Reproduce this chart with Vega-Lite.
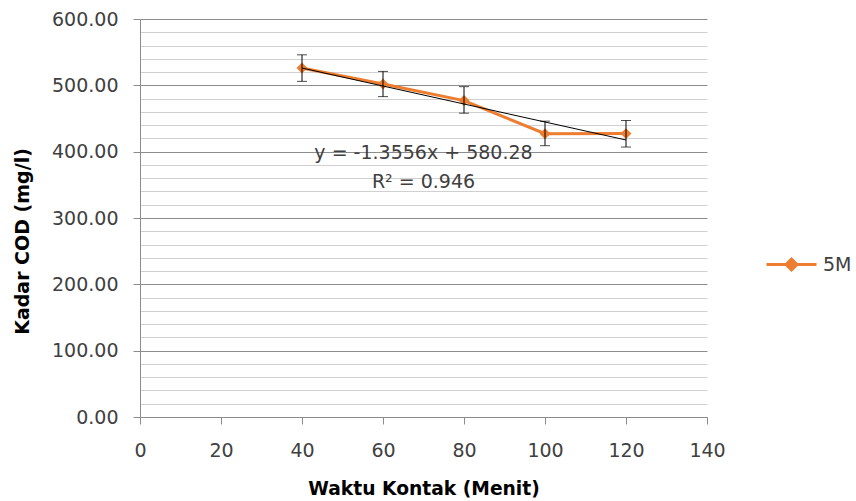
{
  "$schema": "https://vega.github.io/schema/vega-lite/v6.json",
  "width": 567,
  "height": 398,
  "autosize": "none",
  "padding": {"left": 140, "top": 19, "right": 149, "bottom": 84},
  "background": "white",
  "config": {
    "font": "DejaVu Sans",
    "view": {"stroke": null},
    "axis": {"labelFlush": false, "labelOverlap": false}
  },
  "datasets": {
    "obs": [
      {"waktu": 40, "cod": 526, "lo": 506, "hi": 546, "series": "5M"},
      {"waktu": 60, "cod": 502, "lo": 483, "hi": 521, "series": "5M"},
      {"waktu": 80, "cod": 477, "lo": 458, "hi": 498, "series": "5M"},
      {"waktu": 100, "cod": 427, "lo": 409, "hi": 446, "series": "5M"},
      {"waktu": 120, "cod": 427.2, "lo": 407, "hi": 447, "series": "5M"}
    ],
    "trend": [
      {"waktu": 40, "cod": 526.06},
      {"waktu": 120, "cod": 417.61}
    ],
    "notes": [
      {"waktu": 70, "cod": 398, "label": "y = -1.3556x + 580.28"},
      {"waktu": 70, "cod": 354, "label": "R² = 0.946"}
    ]
  },
  "layer": [
    {
      "data": {"name": "obs"},
      "mark": {"type": "line", "strokeWidth": 3, "point": {"shape": "diamond", "size": 120, "filled": true, "opacity": 1}},
      "encoding": {
        "x": {"field": "waktu", "type": "quantitative", "scale": {"domain": [0, 140], "nice": false},
          "axis": {"values": [0, 20, 40, 60, 80, 100, 120, 140], "grid": false, "labelFlush": false,
            "labelFontSize": 19, "labelColor": "#404040", "labelPadding": 17,
            "domainColor": "#8c8c8c", "tickColor": "#8c8c8c", "tickSize": 7,
            "title": "Waktu Kontak (Menit)", "titleFontSize": 18.7, "titleFontWeight": "bold", "titleColor": "#000000",
            "titleX": 283.5, "titleY": 71, "titleBaseline": "middle", "titleAlign": "center"}},
        "y": {"field": "cod", "type": "quantitative", "scale": {"domain": [0, 600], "nice": false},
          "axis": {
            "values": [0,20,40,60,80,100,120,140,160,180,200,220,240,260,280,300,320,340,360,380,400,420,440,460,480,500,520,540,560,580,600],
            "labelExpr": "datum.value % 100 === 0 ? format(datum.value, '.2f') : ''", "labelFlush": false,
            "labelFontSize": 19, "labelColor": "#404040", "labelPadding": 15,
            "domainColor": "#8c8c8c", "tickColor": "#8c8c8c", "tickSize": 7,
            "grid": true,
            "gridColor": {"condition": {"test": "datum.value % 100 === 0", "value": "#8c8c8c"}, "value": "#d0d0d0"},
            "gridWidth": 1,
            "tickOpacity": {"condition": {"test": "datum.value % 100 === 0", "value": 1}, "value": 0},
            "title": "Kadar COD (mg/l)", "titleFontSize": 19, "titleFontWeight": "bold", "titleColor": "#000000",
            "titleX": -118, "titleY": 222, "titleAngle": -90, "titleAlign": "center", "titleBaseline": "middle"
          }},
        "color": {"field": "series", "type": "nominal", "scale": {"range": ["#ED7D31"]},
          "legend": {"orient": "none", "legendX": 625, "legendY": 219, "title": null,
            "symbolType": "M-1,0L1,0M0,-0.22L0.22,0L0,0.22L-0.22,0Z", "symbolSize": 2500, "symbolStrokeWidth": 3,
            "symbolFillColor": "#ED7D31", "symbolStrokeColor": "#ED7D31", "labelFontSize": 19, "labelColor": "#404040", "padding": 0, "labelOffset": 5}}
      }
    },
    {
      "data": {"name": "obs"},
      "mark": {"type": "errorbar", "ticks": {"color": "black", "strokeWidth": 1}, "rule": {"color": "black", "strokeWidth": 1}, "size": 10},
      "encoding": {
        "x": {"field": "waktu", "type": "quantitative",
          "axis": {"values": [0, 20, 40, 60, 80, 100, 120, 140], "grid": false, "labelFlush": false,
            "labelFontSize": 19, "labelColor": "#404040", "labelPadding": 17,
            "domainColor": "#8c8c8c", "tickColor": "#8c8c8c", "tickSize": 7,
            "title": "Waktu Kontak (Menit)", "titleFontSize": 18.7, "titleFontWeight": "bold", "titleColor": "#000000",
            "titleX": 283.5, "titleY": 71, "titleBaseline": "middle", "titleAlign": "center"}},
        "y": {"field": "lo", "type": "quantitative",
          "axis": {
            "values": [0,20,40,60,80,100,120,140,160,180,200,220,240,260,280,300,320,340,360,380,400,420,440,460,480,500,520,540,560,580,600],
            "labelExpr": "datum.value % 100 === 0 ? format(datum.value, '.2f') : ''", "labelFlush": false,
            "labelFontSize": 19, "labelColor": "#404040", "labelPadding": 15,
            "domainColor": "#8c8c8c", "tickColor": "#8c8c8c", "tickSize": 7,
            "grid": true,
            "gridColor": {"condition": {"test": "datum.value % 100 === 0", "value": "#8c8c8c"}, "value": "#d0d0d0"},
            "gridWidth": 1,
            "tickOpacity": {"condition": {"test": "datum.value % 100 === 0", "value": 1}, "value": 0},
            "title": "Kadar COD (mg/l)", "titleFontSize": 19, "titleFontWeight": "bold", "titleColor": "#000000",
            "titleX": -118, "titleY": 222, "titleAngle": -90, "titleAlign": "center", "titleBaseline": "middle"
          }},
        "y2": {"field": "hi"}
      }
    },
    {
      "data": {"name": "trend"},
      "mark": {"type": "line", "color": "black", "strokeWidth": 1},
      "encoding": {
        "x": {"field": "waktu", "type": "quantitative",
          "axis": {"values": [0, 20, 40, 60, 80, 100, 120, 140], "grid": false, "labelFlush": false,
            "labelFontSize": 19, "labelColor": "#404040", "labelPadding": 17,
            "domainColor": "#8c8c8c", "tickColor": "#8c8c8c", "tickSize": 7,
            "title": "Waktu Kontak (Menit)", "titleFontSize": 18.7, "titleFontWeight": "bold", "titleColor": "#000000",
            "titleX": 283.5, "titleY": 71, "titleBaseline": "middle", "titleAlign": "center"}},
        "y": {"field": "cod", "type": "quantitative",
          "axis": {
            "values": [0,20,40,60,80,100,120,140,160,180,200,220,240,260,280,300,320,340,360,380,400,420,440,460,480,500,520,540,560,580,600],
            "labelExpr": "datum.value % 100 === 0 ? format(datum.value, '.2f') : ''", "labelFlush": false,
            "labelFontSize": 19, "labelColor": "#404040", "labelPadding": 15,
            "domainColor": "#8c8c8c", "tickColor": "#8c8c8c", "tickSize": 7,
            "grid": true,
            "gridColor": {"condition": {"test": "datum.value % 100 === 0", "value": "#8c8c8c"}, "value": "#d0d0d0"},
            "gridWidth": 1,
            "tickOpacity": {"condition": {"test": "datum.value % 100 === 0", "value": 1}, "value": 0},
            "title": "Kadar COD (mg/l)", "titleFontSize": 19, "titleFontWeight": "bold", "titleColor": "#000000",
            "titleX": -118, "titleY": 222, "titleAngle": -90, "titleAlign": "center", "titleBaseline": "middle"
          }}
      }
    },
    {
      "data": {"name": "notes"},
      "mark": {"type": "text", "fontSize": 19, "color": "#404040", "align": "center", "baseline": "middle"},
      "encoding": {
        "x": {"field": "waktu", "type": "quantitative",
          "axis": {"values": [0, 20, 40, 60, 80, 100, 120, 140], "grid": false, "labelFlush": false,
            "labelFontSize": 19, "labelColor": "#404040", "labelPadding": 17,
            "domainColor": "#8c8c8c", "tickColor": "#8c8c8c", "tickSize": 7,
            "title": "Waktu Kontak (Menit)", "titleFontSize": 18.7, "titleFontWeight": "bold", "titleColor": "#000000",
            "titleX": 283.5, "titleY": 71, "titleBaseline": "middle", "titleAlign": "center"}},
        "y": {"field": "cod", "type": "quantitative",
          "axis": {
            "values": [0,20,40,60,80,100,120,140,160,180,200,220,240,260,280,300,320,340,360,380,400,420,440,460,480,500,520,540,560,580,600],
            "labelExpr": "datum.value % 100 === 0 ? format(datum.value, '.2f') : ''", "labelFlush": false,
            "labelFontSize": 19, "labelColor": "#404040", "labelPadding": 15,
            "domainColor": "#8c8c8c", "tickColor": "#8c8c8c", "tickSize": 7,
            "grid": true,
            "gridColor": {"condition": {"test": "datum.value % 100 === 0", "value": "#8c8c8c"}, "value": "#d0d0d0"},
            "gridWidth": 1,
            "tickOpacity": {"condition": {"test": "datum.value % 100 === 0", "value": 1}, "value": 0},
            "title": "Kadar COD (mg/l)", "titleFontSize": 19, "titleFontWeight": "bold", "titleColor": "#000000",
            "titleX": -118, "titleY": 222, "titleAngle": -90, "titleAlign": "center", "titleBaseline": "middle"
          }},
        "text": {"field": "label"}
      }
    }
  ]
}
